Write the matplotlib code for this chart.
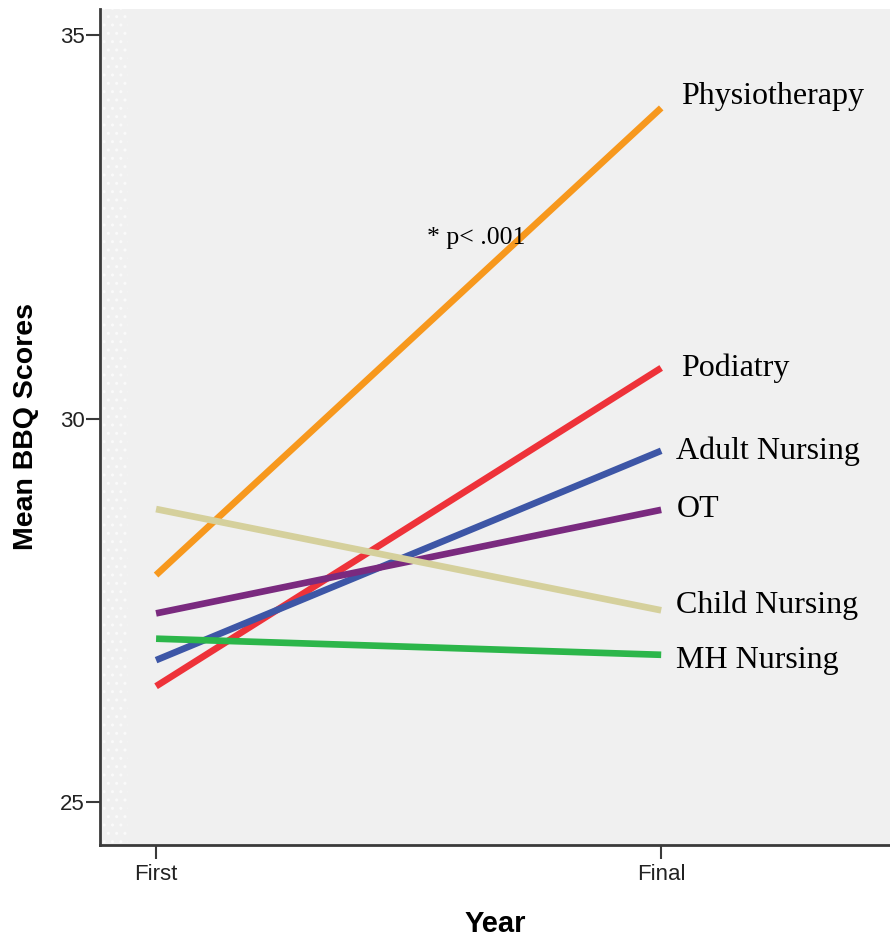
import matplotlib.pyplot as plt
import numpy as np

# --- Data ---
years = ['First', 'Final']
groups = ['Physiotherapy', 'Podiatry', 'Adult Nursing', 'OT', 'Child Nursing', 'MH Nursing']
first_scores = [27.96, 26.51, 26.85, 27.46, 28.82, 27.13]
final_scores = [34.05, 30.66, 29.58, 28.81, 27.50, 26.92]
colors = ['#F7981D', '#EE3239', '#3D56A6', '#7A2A7F', '#D5D09C', '#2CB64A']

BG = '#F0F0F0'
AXIS = '#3A3A3A'

fig = plt.figure(figsize=(8.9, 9.41), dpi=100)
ax = fig.add_axes([100 / 890, 1 - 845 / 941, 790 / 890, 836 / 941])
ax.set_facecolor(BG)

x = np.arange(len(years))
for name, a, b, c in zip(groups, first_scores, final_scores, colors):
    ax.plot(x, [a, b], color=c, lw=4.8, solid_capstyle='butt', zorder=3)

# group labels to the right of each line end
label_dy = [8, 0, 0, 0, 4, -4]   # small vertical nudges (points)
label_dx = [14, 14, 11, 11, 11, 11]
for name, b, dy, dx in zip(groups, final_scores, label_dy, label_dx):
    ax.annotate(name, xy=(1, b), xytext=(dx, dy), textcoords='offset points',
                ha='left', va='center', family='Liberation Serif', fontsize=23,
                color='black', zorder=4)

ax.text(0.537, 32.36, '* p< .001', family='Liberation Serif', fontsize=18.5,
        ha='left', va='center', zorder=4)

# dotted strip at the left edge of the plot
ax.axvspan(-0.106, -0.056, facecolor='none', edgecolor='#FAFAFA', hatch='..',
           lw=0, zorder=1)

ax.set_xlim(-0.111, 1.453)
ax.set_ylim(24.44, 35.34)
ax.set_xticks(x)
ax.set_xticklabels(years)
ax.set_yticks([25, 30, 35])

for side in ['top', 'right']:
    ax.spines[side].set_visible(False)
for side in ['left', 'bottom']:
    ax.spines[side].set_color(AXIS)
    ax.spines[side].set_linewidth(2.0)

ax.tick_params(axis='both', direction='out', length=10, width=1.5, color=AXIS,
               labelsize=16, labelcolor='#222222')
ax.tick_params(axis='y', pad=1)
ax.tick_params(axis='x', pad=4)
for lab in ax.get_xticklabels() + ax.get_yticklabels():
    lab.set_family('Liberation Sans')

ax.set_xlabel('Year', family='Liberation Sans', fontsize=21, fontweight='bold',
              labelpad=18)
ax.set_ylabel('Mean BBQ Scores', family='Liberation Sans', fontsize=20.5,
              fontweight='bold', labelpad=15)

plt.savefig('out.png', dpi=100)
